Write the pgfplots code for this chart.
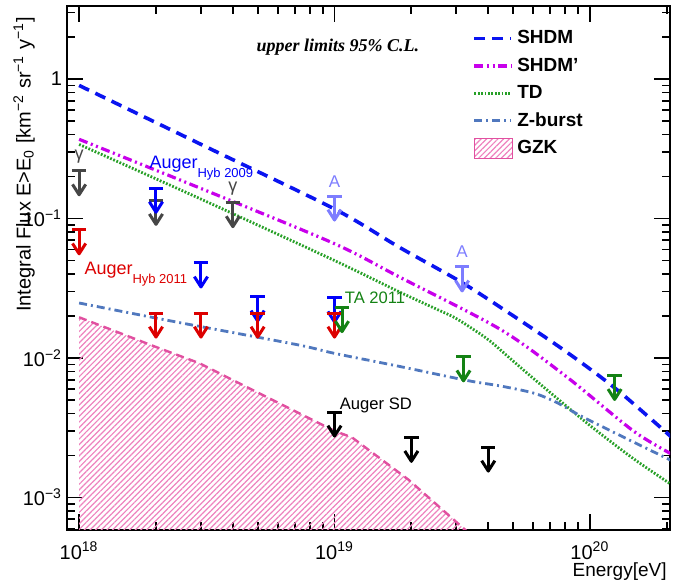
\documentclass[border=0pt]{standalone}
\usepackage{fontspec}
\setmainfont{Liberation Sans}
\newfontfamily\serifbi{Liberation Serif}
\usepackage{pgfplots}
\pgfplotsset{compat=1.18}
\usetikzlibrary{patterns.meta}

\definecolor{cshdm}{RGB}{10,20,240}
\definecolor{cshdmp}{RGB}{200,0,235}
\definecolor{ctd}{RGB}{40,160,40}
\definecolor{czb}{RGB}{80,120,190}
\definecolor{cgzk}{RGB}{225,80,160}
\definecolor{cgzkh}{RGB}{238,130,190}
\definecolor{cred}{RGB}{220,0,0}
\definecolor{cblue}{RGB}{0,0,250}
\definecolor{cgrey}{RGB}{70,70,70}
\definecolor{clav}{RGB}{125,125,255}
\definecolor{cgreen}{RGB}{20,130,20}

\pgfdeclareplotmark{ul}{%
  \pgfsetlinewidth{1.5pt}%
  \pgfsetbuttcap
  \pgfpathmoveto{\pgfqpoint{-3.6pt}{0pt}}\pgfpathlineto{\pgfqpoint{3.6pt}{0pt}}%
  \pgfpathmoveto{\pgfqpoint{0pt}{0pt}}\pgfpathlineto{\pgfqpoint{0pt}{-12pt}}%
  \pgfusepathqstroke
  \pgfsetroundjoin
  \pgfpathmoveto{\pgfqpoint{-3.3pt}{-6.8pt}}\pgfpathlineto{\pgfqpoint{0pt}{-12pt}}\pgfpathlineto{\pgfqpoint{3.3pt}{-6.8pt}}%
  \pgfusepathqstroke}

\begin{document}
\begin{tikzpicture}
\begin{axis}[
  scale only axis, width=301.5pt, height=262pt,
  xmode=log, ymode=log,
  xmin=8.97e17, xmax=2.06e20, ymin=5.85e-4, ymax=3.34,
  axis line style={line width=1.2pt},
  every tick/.style={black, line width=0.9pt},
  major tick length=8pt, minor tick length=4pt,
  tick align=inside,
  xtick={1e18,1e19,1e20},
  xticklabels={10\textsuperscript{18},10\textsuperscript{19},10\textsuperscript{20}},
  minor xtick={2e18,3e18,4e18,5e18,6e18,7e18,8e18,9e18,2e19,3e19,4e19,5e19,6e19,7e19,8e19,9e19,2e20},
  ytick={1e-3,1e-2,1e-1,1},
  yticklabels={10\textsuperscript{−3},10\textsuperscript{−2},10\textsuperscript{−1},1},
  minor ytick={6e-4,7e-4,8e-4,9e-4,2e-3,3e-3,4e-3,5e-3,6e-3,7e-3,8e-3,9e-3,2e-2,3e-2,4e-2,5e-2,6e-2,7e-2,8e-2,9e-2,0.2,0.3,0.4,0.5,0.6,0.7,0.8,0.9,2,3},
  ticklabel style={font=\fontsize{10}{11}\selectfont},
  xticklabel style={yshift=-2.5pt},
  yticklabel style={xshift=1pt},
  xlabel={Energy[eV]},
  xlabel style={at={(axis description cs:1.006,0)}, anchor=base east, yshift=-23.5pt, font=\fontsize{9.5}{10}\selectfont},
  ylabel={Integral Flux E>E\textsubscript{0} [km\textsuperscript{−2} sr\textsuperscript{−1} y\textsuperscript{−1}]},
  ylabel style={at={(axis description cs:-0.0713,0.992)}, anchor=east, font=\fontsize{10}{12}\selectfont},
  legend style={draw=none, fill=none, at={(axis description cs:0.672,0.962)}, anchor=north west,
    font=\bfseries\fontsize{9.5}{11}\selectfont, row sep=1.6pt, inner sep=0pt},
  legend cell align=left,
  legend image code/.code={\draw[#1] (0pt,0pt) -- (18.5pt,0pt);},
]
\coordinate (bl) at (rel axis cs:0,0);
\coordinate (tr) at (rel axis cs:1,1);

% GZK hatched area
\addplot[forget plot, draw=none, pattern={Lines[angle=45,distance=2pt,line width=0.6pt]}, pattern color=cgzkh]
  coordinates {(1e18,1e-4) (1e18,0.0196) (2e18,0.012) (2.95e18,0.0092) (5.37e18,0.0053) (1e19,0.0030) (1.17e19,0.0027) (1.95e19,0.00134) (3.5e19,0.00052) (3.5e19,1e-4)};
\addplot[forget plot, cgzk, line width=1.2pt, dash pattern=on 4pt off 2.5pt]
  coordinates {(1e18,0.0196) (2e18,0.012) (2.95e18,0.0092) (5.37e18,0.0053) (1e19,0.0030) (1.17e19,0.0027) (1.95e19,0.00134) (3.5e19,0.00052)};

% SHDM
\addplot[cshdm, line width=1.8pt, dash pattern=on 5.5pt off 3.5pt, smooth, tension=0.5]
  coordinates {(1e18,0.90) (3.16e18,0.325) (1e19,0.117) (1.8e19,0.062) (3.16e19,0.0347) (5.13e19,0.0195) (8.13e19,0.011) (1.28e20,0.0059) (2.14e20,0.0026)};
\addlegendentry{SHDM}
% SHDM'
\addplot[cshdmp, line width=1.6pt, dash pattern=on 4.5pt off 1.8pt on 1pt off 1.8pt on 1pt off 1.8pt, smooth, tension=0.5]
  coordinates {(1e18,0.37) (3.16e18,0.158) (1e19,0.066) (1.8e19,0.038) (4.47e19,0.016) (8.13e19,0.0073) (1.48e20,0.0030) (2.14e20,0.0020)};
\addlegendentry{SHDM’}
% TD
\addplot[ctd, line width=1.4pt, dash pattern=on 0.9pt off 0.8pt, smooth, tension=0.5]
  coordinates {(1e18,0.34) (3.16e18,0.132) (1e19,0.050) (1.8e19,0.0297) (2.51e19,0.0224) (2.95e19,0.0195) (3.47e19,0.0162) (4.07e19,0.0132) (5.01e19,0.0095) (6.03e19,0.0071) (9.77e19,0.0034) (1.48e20,0.0019) (2.14e20,0.0012)};
\addlegendentry{TD}
% Z-burst
\addplot[czb, line width=1.4pt, dash pattern=on 4pt off 2pt on 1pt off 2pt, smooth, tension=0.5]
  coordinates {(1e18,0.0248) (2.45e18,0.018) (7.08e18,0.0125) (1e19,0.0108) (1.8e19,0.0087) (3.31e19,0.0069) (4.47e19,0.0063) (6.03e19,0.0056) (7.41e19,0.0048) (9.33e19,0.0038) (1.48e20,0.0025) (2.14e20,0.0018)};
\addlegendentry{Z-burst}
\addlegendimage{legend image code/.code={\draw[draw=cgzk, line width=0.8pt, pattern={Lines[angle=45,distance=2pt,line width=0.6pt]}, pattern color=cgzkh] (0pt,-5pt) rectangle (19pt,5pt);}}
\addlegendentry{GZK}

% upper limits
\addplot[forget plot, only marks, mark=ul, color=cgrey] coordinates {(1e18,0.22) (2e18,0.135) (4e18,0.13)};
\addplot[forget plot, only marks, mark=ul, color=cblue] coordinates {(2e18,0.165) (3e18,0.048) (5e18,0.0274) (1e19,0.027)};
\addplot[forget plot, only marks, mark=ul, color=cred] coordinates {(1e18,0.083) (2e18,0.021) (3e18,0.021) (5e18,0.021) (1e19,0.021)};
\addplot[forget plot, only marks, mark=ul, color=clav] coordinates {(1e19,0.145) (3.16e19,0.045)};
\addplot[forget plot, only marks, mark=ul, color=cgreen] coordinates {(1.07e19,0.023) (3.2e19,0.0102) (1.25e20,0.0075)};
\addplot[forget plot, only marks, mark=ul, color=black] coordinates {(1e19,0.0041) (2e19,0.0027) (4e19,0.0023)};

% labels
\node[anchor=base west, text=cblue, font=\fontsize{9}{10}\selectfont, inner sep=0pt] at (axis cs:1.88e18,0.23) {Auger\raisebox{-4.5pt}{\fontsize{6.5}{7}\selectfont Hyb 2009}};
\node[anchor=base west, text=cred, font=\fontsize{9}{10}\selectfont, inner sep=0pt] at (axis cs:1.046e18,0.040) {Auger\raisebox{-4.5pt}{\fontsize{6.5}{7}\selectfont Hyb 2011}};
\node[anchor=base west, text=cgreen, font=\fontsize{8.3}{9}\selectfont, inner sep=0pt] at (axis cs:1.094e19,0.0244) {TA 2011};
\node[anchor=base west, text=black, font=\fontsize{8.3}{9}\selectfont, inner sep=0pt] at (axis cs:1.046e19,0.0043) {Auger SD};
\node[text=cgrey, font=\fontsize{9}{10}\selectfont, inner sep=0pt] at (axis cs:1e18,0.276) {γ};
\node[text=cgrey, font=\fontsize{9}{10}\selectfont, inner sep=0pt] at (axis cs:4e18,0.163) {γ};
\node[text=clav, font=\fontsize{8.5}{9}\selectfont, inner sep=0pt] at (axis cs:1e19,0.183) {A};
\node[text=clav, font=\fontsize{8.5}{9}\selectfont, inner sep=0pt] at (axis cs:3.16e19,0.0575) {A};
\node[anchor=base west, font=\serifbi\bfseries\itshape\fontsize{9}{10}\selectfont, inner sep=0pt] at (axis cs:4.94e18,1.587) {upper limits 95\% C.L.};
\end{axis}
\pgfresetboundingbox
\path ([shift={(-33.5pt,-28pt)}]bl) rectangle ([shift={(3pt,3pt)}]tr);
\end{tikzpicture}
\end{document}
